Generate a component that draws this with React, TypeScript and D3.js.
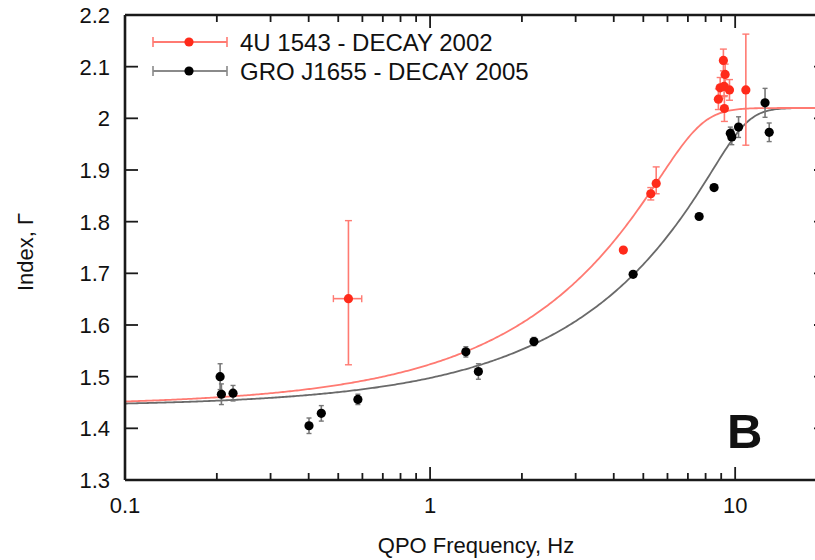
import React from 'react';
import * as d3 from 'd3';

const W = 815;
const H = 560;

// axis ticks
const xMajorTicks = [0.1, 1, 10];
const xMajorLabels = ['0.1', '1', '10'];
const yTicks = [1.3, 1.4, 1.5, 1.6, 1.7, 1.8, 1.9, 2.0, 2.1, 2.2];
const yTickLabels = ['1.3', '1.4', '1.5', '1.6', '1.7', '1.8', '1.9', '2', '2.1', '2.2'];

const seriesNames = ['4U 1543 - DECAY 2002', 'GRO J1655 - DECAY 2005'];

// 4U 1543 (red)
const redFreq = [0.54, 4.30, 5.29, 5.51, 8.81, 8.93, 9.15, 9.20, 9.22, 9.27, 9.58, 10.84];
const redIndex = [1.651, 1.745, 1.854, 1.874, 2.037, 2.059, 2.112, 2.062, 2.019, 2.085, 2.055, 2.055];
const redErrHi = [0.151, 0.004, 0.012, 0.032, 0.02, 0.02, 0.022, 0.02, 0.025, 0.02, 0.02, 0.108];
const redErrLo = [0.128, 0.004, 0.012, 0.02, 0.02, 0.02, 0.02, 0.02, 0.025, 0.02, 0.02, 0.107];
const redFreqLo = [0.482, 4.30, 5.29, 5.51, 8.81, 8.93, 9.15, 9.20, 9.22, 9.27, 9.58, 10.84];
const redFreqHi = [0.597, 4.30, 5.29, 5.51, 8.81, 8.93, 9.15, 9.20, 9.22, 9.27, 9.58, 10.84];

// GRO J1655 (black)
const blackFreq = [0.205, 0.207, 0.226, 0.401, 0.440, 0.580, 1.31, 1.44, 2.19, 4.63, 7.62, 8.53, 9.64, 9.75, 10.26, 12.53, 12.93];
const blackIndex = [1.500, 1.466, 1.468, 1.405, 1.429, 1.456, 1.548, 1.510, 1.568, 1.698, 1.810, 1.866, 1.971, 1.964, 1.983, 2.030, 1.973];
const blackErr = [0.025, 0.02, 0.015, 0.015, 0.015, 0.01, 0.01, 0.015, 0.008, 0.005, 0.005, 0.005, 0.012, 0.015, 0.02, 0.028, 0.018];

// fit parameters: Gamma = A - D*B*ln(exp((ftr - f)/D) + 1)
const redFit = [2.02, 0.08, 7.2, 0.9];
const blackFit = [2.02, 0.055, 10.5, 1.0];

const RED = '#ff2a1a';
const RED_LIGHT = '#ff7a72';
const BLACK = '#000';
const GREY = '#6a6a6a';

function fitValue(p: number[], f: number) {
  const [A, B, ft, D] = p;
  return A - D * B * Math.log(Math.exp((ft - f) / D) + 1);
}

export default function App() {
  const left = 125, right = 827, top = 15, bottom = 480;
  const x = d3.scaleLog().domain([0.1, 20]).range([left, right]);
  const y = d3.scaleLinear().domain([1.3, 2.2]).range([bottom, top]);

  const minorTicks: number[] = [];
  [0.1, 1, 10].forEach((d) => {
    for (let k = 2; k <= 9; k++) {
      const v = d * k;
      if (v <= 20) minorTicks.push(v);
    }
  });

  const samples = d3.range(0, 401).map((i) => Math.pow(10, -1 + (i / 400) * Math.log10(200)));
  const curve = (p: number[]) =>
    d3
      .line<number>()
      .x((f) => x(f))
      .y((f) => y(fitValue(p, f)))(samples) || '';

  const font = '"Liberation Sans", Arial, Helvetica, sans-serif';
  const axisColor = '#1a1a1a';

  const majLen = 13;
  const minLen = 7;

  const errBar = (
    key: string,
    f: number,
    v: number,
    lo: number,
    hi: number,
    fLo: number,
    fHi: number,
    color: string,
    cap: number
  ) => {
    const cx = x(f);
    const cy = y(v);
    const y1 = y(v + hi);
    const y2 = y(v - lo);
    const els = [];
    if (Math.abs(y2 - y1) > 1) {
      els.push(<line key={key + 'v'} x1={cx} x2={cx} y1={y1} y2={y2} stroke={color} strokeWidth={1.6} />);
      els.push(<line key={key + 'c1'} x1={cx - cap} x2={cx + cap} y1={y1} y2={y1} stroke={color} strokeWidth={1.4} />);
      els.push(<line key={key + 'c2'} x1={cx - cap} x2={cx + cap} y1={y2} y2={y2} stroke={color} strokeWidth={1.4} />);
    }
    if (fHi / fLo > 1.01) {
      const xa = x(fLo), xb = x(fHi);
      els.push(<line key={key + 'h'} x1={xa} x2={xb} y1={cy} y2={cy} stroke={color} strokeWidth={1.6} />);
      els.push(<line key={key + 'hc1'} x1={xa} x2={xa} y1={cy - cap} y2={cy + cap} stroke={color} strokeWidth={1.4} />);
      els.push(<line key={key + 'hc2'} x1={xb} x2={xb} y1={cy - cap} y2={cy + cap} stroke={color} strokeWidth={1.4} />);
    }
    return els;
  };

  return (
    <svg
      width={W}
      height={H}
      style={{ position: 'absolute', left: 0, top: 0, background: '#fff' }}
      fontFamily={font}
    >
      <defs>
        <clipPath id="plotClip">
          <rect x={left} y={top} width={right - left} height={bottom - top} />
        </clipPath>
      </defs>
      <rect x={0} y={0} width={W} height={H} fill="#fff" />

      {/* fit curves */}
      <g clipPath="url(#plotClip)">
        <path d={curve(blackFit)} fill="none" stroke={GREY} strokeWidth={1.8} />
        <path d={curve(redFit)} fill="none" stroke={RED_LIGHT} strokeWidth={1.8} />
      </g>

      {/* black data */}
      <g>
        {blackFreq.map((f, i) =>
          errBar('b' + i, f, blackIndex[i], blackErr[i], blackErr[i], f, f, '#777', 2.5)
        )}
        {blackFreq.map((f, i) => (
          <circle key={'bp' + i} cx={x(f)} cy={y(blackIndex[i])} r={4.6} fill={BLACK} />
        ))}
      </g>

      {/* red data */}
      <g>
        {redFreq.map((f, i) =>
          errBar('r' + i, f, redIndex[i], redErrLo[i], redErrHi[i], redFreqLo[i], redFreqHi[i], RED_LIGHT, 3.5)
        )}
        {redFreq.map((f, i) => (
          <circle key={'rp' + i} cx={x(f)} cy={y(redIndex[i])} r={4.6} fill={RED} />
        ))}
      </g>

      {/* axes frame */}
      <g stroke={axisColor} strokeWidth={2.6} fill="none">
        <line x1={left} x2={right} y1={bottom} y2={bottom} />
        <line x1={left} x2={right} y1={top} y2={top} />
        <line x1={left} x2={left} y1={top} y2={bottom} />
        <line x1={right} x2={right} y1={top} y2={bottom} />
      </g>

      {/* ticks */}
      <g stroke={axisColor} strokeWidth={1.8}>
        {xMajorTicks.map((t) => (
          <g key={'xm' + t}>
            <line x1={x(t)} x2={x(t)} y1={bottom} y2={bottom - majLen} />
            <line x1={x(t)} x2={x(t)} y1={top} y2={top + majLen} />
          </g>
        ))}
        {minorTicks.map((t) => (
          <g key={'xn' + t}>
            <line x1={x(t)} x2={x(t)} y1={bottom} y2={bottom - minLen} />
            <line x1={x(t)} x2={x(t)} y1={top} y2={top + minLen} />
          </g>
        ))}
        {yTicks.map((t) => (
          <g key={'y' + t}>
            <line x1={left} x2={left + majLen} y1={y(t)} y2={y(t)} />
            <line x1={right} x2={right - majLen} y1={y(t)} y2={y(t)} />
          </g>
        ))}
      </g>

      {/* tick labels */}
      <g fill="#111" fontSize={22}>
        {xMajorTicks.map((t, i) => (
          <text key={'xl' + t} x={x(t)} y={bottom + 33} textAnchor="middle">
            {xMajorLabels[i]}
          </text>
        ))}
        {yTicks.map((t, i) => (
          <text key={'yl' + t} x={left - 15} y={y(t) + 8} textAnchor="end">
            {yTickLabels[i]}
          </text>
        ))}
      </g>

      {/* axis titles */}
      <text x={476} y={553} textAnchor="middle" fontSize={22} fill="#111">
        QPO Frequency, Hz
      </text>
      <text
        transform={`translate(33, 252) rotate(-90)`}
        textAnchor="middle"
        fontSize={22}
        fill="#111"
      >
        Index, Γ
      </text>

      {/* panel label */}
      <text x={727} y={448} fontSize={49} fontWeight="bold" fill="#111">
        B
      </text>

      {/* legend */}
      <g>
        {[0, 1].map((i) => {
          const ly = 42 + i * 29;
          const c = i === 0 ? RED_LIGHT : '#8a8a8a';
          const dc = i === 0 ? RED : BLACK;
          return (
            <g key={'leg' + i}>
              <line x1={153} x2={227} y1={ly} y2={ly} stroke={c} strokeWidth={1.8} />
              <line x1={153} x2={153} y1={ly - 5} y2={ly + 5} stroke={c} strokeWidth={1.6} />
              <line x1={227} x2={227} y1={ly - 5} y2={ly + 5} stroke={c} strokeWidth={1.6} />
              <circle cx={189} cy={ly} r={4.6} fill={dc} />
              <text x={240} y={ly + 9} fontSize={24} fill="#111">
                {seriesNames[i]}
              </text>
            </g>
          );
        })}
      </g>
    </svg>
  );
}
